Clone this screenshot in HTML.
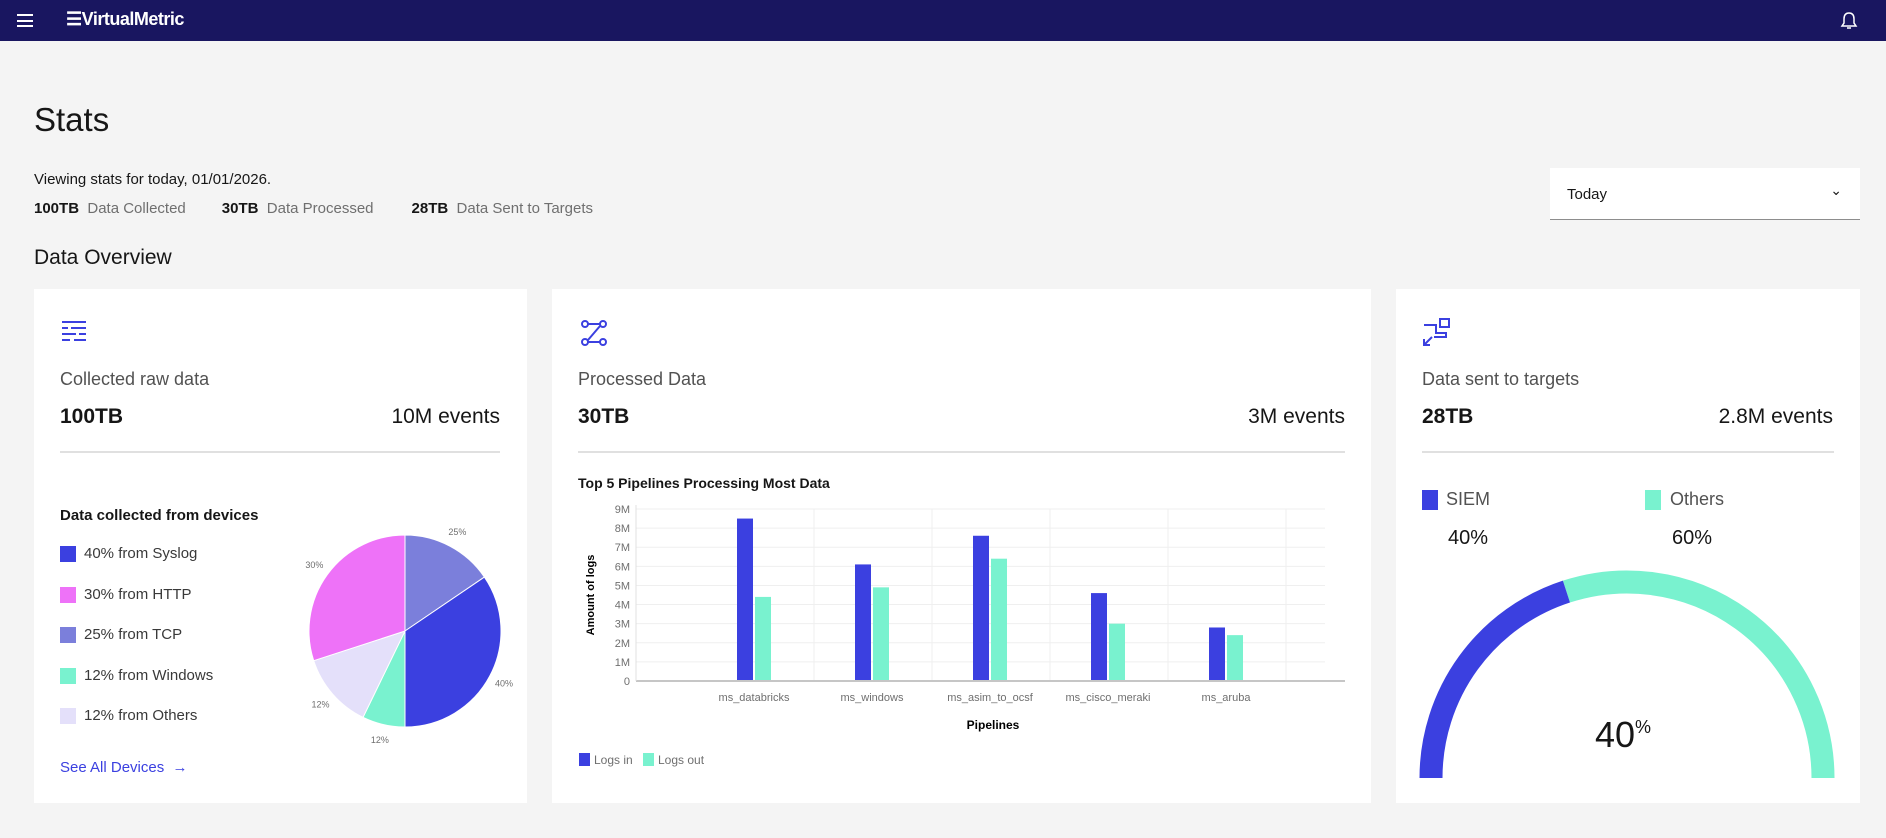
<!DOCTYPE html>
<html><head><meta charset="utf-8"><style>
*{box-sizing:border-box;margin:0;padding:0}
body{width:1886px;height:838px;background:#f4f4f4;font-family:"Liberation Sans",sans-serif;color:#161616;position:relative;overflow:hidden}
.abs{position:absolute;white-space:nowrap}
.card{position:absolute;background:#fff;top:289px;height:514px}
.sw{position:absolute;width:16px;height:16px}
</style></head><body>
<div class="abs" style="left:0;top:0;width:1886px;height:41px;background:#191660"></div>
<div class="abs" style="left:17px;top:14px;width:16px;height:13px;border-top:2px solid #fff;border-bottom:2px solid #fff"><div style="margin-top:3.5px;border-top:2px solid #fff"></div></div>
<div class="abs" style="left:66px;top:9px;color:#fff;font-weight:bold;font-size:18px;letter-spacing:-0.5px">☰VirtualMetric</div>
<svg class="abs" style="left:1840px;top:11px" width="18" height="20" viewBox="0 0 18 20"><path d="M9 2 C5 2 4 5 4 8 V12 L2 15 H16 L14 12 V8 C14 5 13 2 9 2Z M7 17 H11" fill="none" stroke="#fff" stroke-width="1.5"/></svg>

<div class="abs" style="left:34px;top:101px;font-size:33px">Stats</div>
<div class="abs" style="left:34px;top:171px;font-size:15px">Viewing stats for today, 01/01/2026.</div>
<div class="abs" style="left:34px;top:200px;font-size:15px"><b style="font-weight:600">100TB</b> <span style="color:#6f6f6f">&nbsp;Data Collected</span><span style="display:inline-block;width:36px"></span><b style="font-weight:600">30TB</b> <span style="color:#6f6f6f">&nbsp;Data Processed</span><span style="display:inline-block;width:38px"></span><b style="font-weight:600">28TB</b> <span style="color:#6f6f6f">&nbsp;Data Sent to Targets</span></div>
<div class="abs" style="left:1550px;top:168px;width:310px;height:52px;background:#fff;border-bottom:1px solid #8d8d8d;font-size:15px;padding:18px 17px">Today<span style="position:absolute;right:18px;top:14px;font-size:14px">⌄</span></div>
<div class="abs" style="left:34px;top:246px;font-size:21px">Data Overview</div>

<div class="card" style="left:34px;width:493px">
<svg class="abs" style="left:26px;top:30px" width="28" height="26" viewBox="0 0 28 26" stroke="#3b40e0" stroke-width="2"><path d="M2 3H26M2 9H8M11 9H26M2 15H16M19 15H26M2 21H10M14 21H26"/></svg>
<div class="abs" style="left:26px;top:80px;font-size:18px;color:#525252">Collected raw data</div>
<div class="abs" style="left:26px;top:116px;font-size:21px;font-weight:600">100TB</div>
<div class="abs" style="right:27px;top:116px;font-size:21px">10M events</div>
<div class="abs" style="left:26px;top:162px;width:440px;height:2px;background:#e0e0e0"></div>
<div class="abs" style="left:26px;top:218px;font-size:15px;font-weight:bold">Data collected from devices</div>
<div id="pieLegend"></div>
<div class="abs" style="left:26px;top:470px;font-size:15px;color:#3b40e0">See All Devices &nbsp;→</div>
<svg class="abs" id="pie" style="left:0;top:0" width="493" height="514"></svg>
</div>

<div class="card" style="left:552px;width:819px">
<svg class="abs" style="left:28px;top:30px" width="28" height="28" viewBox="0 0 28 28" fill="none" stroke="#3b40e0" stroke-width="2"><circle cx="5" cy="5" r="3"/><circle cx="23" cy="5" r="3"/><circle cx="5" cy="23" r="3"/><circle cx="23" cy="23" r="3"/><path d="M8 5H20M20 7L8 21M8 23H20"/></svg>
<div class="abs" style="left:26px;top:80px;font-size:18px;color:#525252">Processed Data</div>
<div class="abs" style="left:26px;top:116px;font-size:21px;font-weight:600">30TB</div>
<div class="abs" style="right:26px;top:116px;font-size:21px">3M events</div>
<div class="abs" style="left:26px;top:162px;width:767px;height:2px;background:#e0e0e0"></div>
<div class="abs" style="left:26px;top:186px;font-size:14px;font-weight:bold">Top 5 Pipelines Processing Most Data</div>
</div>
<svg class="abs" id="bar" style="left:552px;top:289px" width="819" height="514"></svg>

<div class="card" style="left:1396px;width:464px">
<svg class="abs" style="left:26px;top:28px" width="30" height="30" viewBox="0 0 30 30" fill="none" stroke="#3b40e0" stroke-width="2"><rect x="18" y="2" width="9" height="8"/><path d="M2 8H14V16H24V20H12M2 28L10 20M2 22V28H8"/></svg>
<div class="abs" style="left:26px;top:80px;font-size:18px;color:#525252">Data sent to targets</div>
<div class="abs" style="left:26px;top:116px;font-size:21px;font-weight:600">28TB</div>
<div class="abs" style="right:27px;top:116px;font-size:21px">2.8M events</div>
<div class="abs" style="left:26px;top:162px;width:412px;height:2px;background:#e0e0e0"></div>
<div class="sw" style="left:26px;top:201px;background:#3b40e0;height:20px"></div>
<div class="abs" style="left:50px;top:200px;font-size:18px;color:#525252">SIEM</div>
<div class="abs" style="left:52px;top:238px;font-size:20px">40%</div>
<div class="sw" style="left:249px;top:201px;background:#79f2cf;height:20px"></div>
<div class="abs" style="left:274px;top:200px;font-size:18px;color:#525252">Others</div>
<div class="abs" style="left:276px;top:238px;font-size:20px">60%</div>
</div>
<svg class="abs" id="gauge" style="left:1396px;top:289px" width="464" height="514"></svg>

<script>
const NS="http://www.w3.org/2000/svg";
function mk(p,t,a){const e=document.createElementNS(NS,t);for(const k in a)e.setAttribute(k,a[k]);p.appendChild(e);return e;}

// Pie data
const pieLabels=["25% from TCP","40% from Syslog","12% from Windows","12% from Others","30% from HTTP"];
const pieValues=[25,40,12,12,30];
const pieShares=[15.5,34.5,7.2,12.8,30];
const pieColors=["#7b7fdb","#3b40e0","#79f2cf","#e4e0fa","#ee72f8"];
const legendOrder=[1,4,0,2,3];
const pie=document.getElementById('pie');
const pcx=371,pcy=342,pr=96;
const total=pieShares.reduce((a,b)=>a+b,0);
let ang=0;
pieShares.forEach((v,i)=>{
  const a0=ang, a1=ang+v/total*2*Math.PI; ang=a1;
  const x0=pcx+pr*Math.sin(a0),y0=pcy-pr*Math.cos(a0),x1=pcx+pr*Math.sin(a1),y1=pcy-pr*Math.cos(a1);
  const p=mk(pie,'path',{d:`M${pcx} ${pcy}L${x0} ${y0}A${pr} ${pr} 0 ${a1-a0>Math.PI?1:0} 1 ${x1} ${y1}Z`,fill:pieColors[i],stroke:'#fff','stroke-width':1});
  
  
  const am=(a0+a1)/2;
  const t=mk(pie,'text',{x:pcx+(pr+16)*Math.sin(am),y:pcy-(pr+16)*Math.cos(am)+3,'font-size':9,fill:'#6f6f6f','text-anchor':'middle'});
  t.textContent=pieValues[i]+'%';
  
  
});
const leg=document.getElementById('pieLegend');
legendOrder.forEach((idx,k)=>{
  const y=257+k*40.5;
  const s=document.createElement('div');s.className='sw';s.style.cssText=`left:26px;top:${y}px;background:${pieColors[idx]}`;
  
  
  leg.appendChild(s);
  const l=document.createElement('div');l.className='abs';l.style.cssText=`left:50px;top:${y-1}px;font-size:15px;color:#393939`;l.textContent=pieLabels[idx];
  
  
  leg.appendChild(l);
});

// Bar data
const categories=["ms_databricks","ms_windows","ms_asim_to_ocsf","ms_cisco_meraki","ms_aruba"];
const logsIn=[8.5,6.1,7.6,4.6,2.8];
const logsOut=[4.4,4.9,6.4,3.0,2.4];
const yTicks=[0,1,2,3,4,5,6,7,8,9];
const yTickLabels=["0","1M","2M","3M","4M","5M","6M","7M","8M","9M"];
const bar=document.getElementById('bar');
const x0=84,x1=793,yb=392,yt=220;
const yS=v=>yb-(yb-yt)*v/9;
const xC=i=>202+i*118;
yTicks.forEach((v,i)=>{
  const g=mk(bar,'line',{x1:x0,x2:x1-20,y1:yS(v),y2:yS(v),stroke:'#efefef'});
  
  const t=mk(bar,'text',{x:x0-6,y:yS(v)+4,'font-size':11,fill:'#6f6f6f','text-anchor':'end'});t.textContent=yTickLabels[i];
  
});
categories.forEach((c,i)=>{
  const vg=mk(bar,'line',{x1:xC(i)+60,x2:xC(i)+60,y1:yt,y2:yb,stroke:'#efefef'});
  
  const b1=mk(bar,'rect',{x:xC(i)-17,y:yS(logsIn[i]),width:16,height:yb-yS(logsIn[i]),fill:'#3b40e0'});
  
  const b2=mk(bar,'rect',{x:xC(i)+1,y:yS(logsOut[i]),width:16,height:yb-yS(logsOut[i]),fill:'#79f2cf'});
  
  const t=mk(bar,'text',{x:xC(i),y:412,'font-size':11,fill:'#6f6f6f','text-anchor':'middle'});t.textContent=c;
  
});
const ax=mk(bar,'line',{x1:x0,x2:x1,y1:yb,y2:yb,stroke:'#c6c6c6','stroke-width':2});
const ay=mk(bar,'line',{x1:x0,x2:x0,y1:yt-4,y2:yb,stroke:'#e0e0e0'});
let t=mk(bar,'text',{x:441,y:440,'font-size':12,'font-weight':'bold','text-anchor':'middle'});t.textContent='Pipelines';

t=mk(bar,'text',{x:0,y:0,'font-size':11,'font-weight':'bold','text-anchor':'middle',transform:'translate(42,306) rotate(-90)'});t.textContent='Amount of logs';

[["Logs in","#3b40e0",27],["Logs out","#79f2cf",91]].forEach(([n,c,x])=>{
  const r=mk(bar,'rect',{x:x,y:464,width:11,height:13,fill:c});
  const tt=mk(bar,'text',{x:x+15,y:475,'font-size':12,fill:'#6f6f6f'});tt.textContent=n;
  
});

// Gauge
const gaugeValue=40;
const g=document.getElementById('gauge');
const gcx=231,gcy=489,gr=196;
function arc(f0,f1){const a0=Math.PI*(1-f0),a1=Math.PI*(1-f1);return `M${gcx+gr*Math.cos(a0)} ${gcy-gr*Math.sin(a0)}A${gr} ${gr} 0 0 1 ${gcx+gr*Math.cos(a1)} ${gcy-gr*Math.sin(a1)}`;}
const ga=mk(g,'path',{d:arc(gaugeValue/100,1),fill:'none',stroke:'#79f2cf','stroke-width':23});
const gb=mk(g,'path',{d:arc(0,gaugeValue/100),fill:'none',stroke:'#3b40e0','stroke-width':23});
t=mk(g,'text',{x:gcx-4,y:458,'font-size':36,'text-anchor':'middle',fill:'#161616'});t.textContent=gaugeValue;
const sp=mk(t,'tspan',{'font-size':18,dy:-14});sp.textContent='%';

</script>
</body></html>
